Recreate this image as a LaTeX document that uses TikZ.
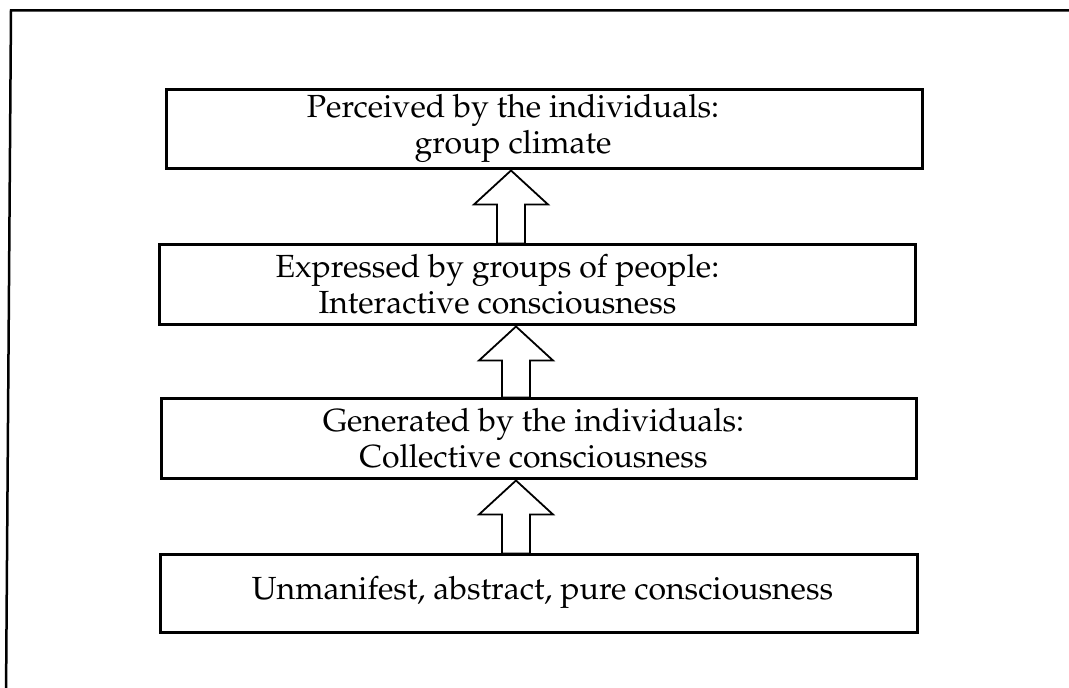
\documentclass[tikz,border=0pt]{standalone}
\usepackage[T1]{fontenc}
\renewcommand{\rmdefault}{ppl}
\usetikzlibrary{calc}
\tikzset{
  levelbox/.style={draw=black, line width=3pt, fill=white, inner sep=0pt,
    minimum width=756pt, minimum height=79pt},
  leveltext/.style={inner sep=0pt, align=center,
    font=\fontsize{32}{36}\selectfont},
  blockarrow/.style={draw=black, line width=1.8pt, fill=white, line join=miter},
  frameline/.style={draw=black, line width=2.5pt}
}
\begin{document}
\begin{tikzpicture}[x=1pt,y=1pt]
\useasboundingbox (0,0) rectangle (1069,688);
\begin{scope}
\clip (0,0) rectangle (1069,688);
\draw[frameline] (1080,677.5) -- (11,677.5) -- (6,-10);
\end{scope}

% boxes
\node[levelbox] (b1) at (544,558.5) {};
\node[levelbox, minimum height=80pt] (b2) at (537.5,403) {};
\node[levelbox, minimum width=755pt, minimum height=80pt] (b3) at (538.5,249) {};
\node[levelbox, minimum width=757pt, minimum height=78pt] (b4) at (538.5,94) {};

% texts
\node[leveltext, xshift=-31pt, yshift=1pt] (t1) at (b1.center) {Perceived by the individuals:\\group climate};
\node[leveltext, xshift=-40pt, yshift=1pt] (t2) at (b2.center) {Expressed by groups of people:\\Interactive consciousness};
\node[leveltext, xshift=-5pt, yshift=1pt] (t3) at (b3.center) {Generated by the individuals:\\Collective consciousness};
\node[leveltext, xshift=4pt, yshift=2pt] (t4) at (b4.center) {Unmanifest, abstract, pure consciousness};

% block arrows between levels
\draw[blockarrow] let \p1=(b2.north), \p2=(b1.south) in
  (497,\y1) -- (497,\y2-34) -- (474,\y2-34) -- (511,\y2) -- (548,\y2-34) -- (525,\y2-34) -- (525,\y1) -- cycle;
\draw[blockarrow] let \p1=(b3.north), \p2=(b2.south) in
  (502,\y1) -- (502,\y2-34) -- (479,\y2-34) -- (516,\y2) -- (553,\y2-34) -- (530,\y2-34) -- (530,\y1) -- cycle;
\draw[blockarrow] let \p1=(b4.north), \p2=(b3.south) in
  (502,\y1) -- (502,\y2-34) -- (479,\y2-34) -- (516,\y2) -- (553,\y2-34) -- (530,\y2-34) -- (530,\y1) -- cycle;
\end{tikzpicture}
\end{document}
